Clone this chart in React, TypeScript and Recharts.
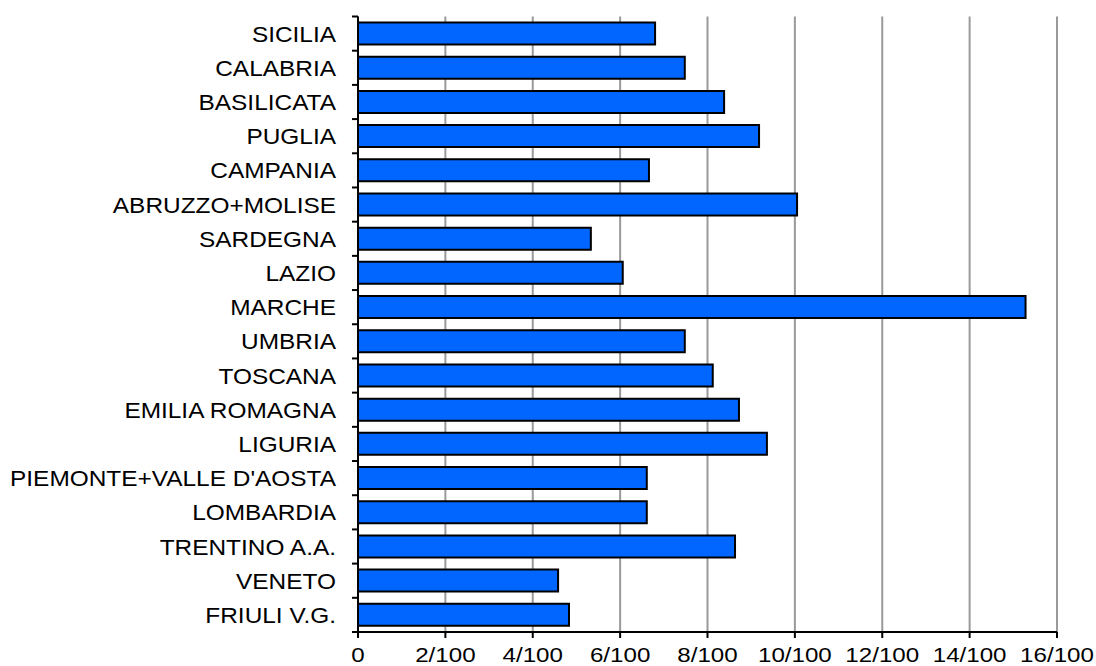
import { Bar, BarChart, CartesianGrid, XAxis, YAxis } from "recharts";

const regions = [
  "SICILIA",
  "CALABRIA",
  "BASILICATA",
  "PUGLIA",
  "CAMPANIA",
  "ABRUZZO+MOLISE",
  "SARDEGNA",
  "LAZIO",
  "MARCHE",
  "UMBRIA",
  "TOSCANA",
  "EMILIA ROMAGNA",
  "LIGURIA",
  "PIEMONTE+VALLE D'AOSTA",
  "LOMBARDIA",
  "TRENTINO A.A.",
  "VENETO",
  "FRIULI V.G.",
];

// values in hundredths
const values = [6.8, 7.48, 8.38, 9.18, 6.66, 10.05, 5.33, 6.06, 15.28, 7.48, 8.12, 8.72, 9.36, 6.61, 6.61, 8.63, 4.58, 4.83];

const xTicks = [0, 2, 4, 6, 8, 10, 12, 14, 16];

const data = regions.map((name, i) => ({ name, value: values[i] }));

const W = 1096;
const H = 666;
const PLOT_TOP = 16.5;
const PLOT_BOTTOM = 632;
const PLOT_LEFT = 358;
const PLOT_RIGHT = 1057;
const band = (PLOT_BOTTOM - PLOT_TOP) / regions.length;
const font = "'Liberation Sans', Arial, sans-serif";

function RegionTick(props: any) {
  const { y, payload, index } = props;
  return (
    <g>
      <text
        transform={`translate(336, ${y}) scale(1.11, 1)`}
        textAnchor="end"
        dy={8}
        fontSize={22}
        fontFamily={font}
        fill="#000"
      >
        {payload.value}
      </text>
      {index === 0 && (
        <line x1={PLOT_LEFT - 6} x2={PLOT_LEFT} y1={y - band / 2} y2={y - band / 2} stroke="#000" strokeWidth={2} />
      )}
      <line x1={PLOT_LEFT - 6} x2={PLOT_LEFT} y1={y + band / 2} y2={y + band / 2} stroke="#000" strokeWidth={2} />
    </g>
  );
}

function ValueTick(props: any) {
  const { x, payload } = props;
  const label = payload.value === 0 ? "0" : `${payload.value}/100`;
  return (
    <text
      transform={`translate(${x}, 662) scale(1.15, 1)`}
      textAnchor="middle"
      fontSize={21}
      fontFamily={font}
      fill="#000"
    >
      {label}
    </text>
  );
}

export default function App() {
  return (
    <div style={{ position: "absolute", left: 0, top: 0, width: W, height: H, background: "#fff" }}>
      <BarChart
        width={W}
        height={H}
        data={data}
        layout="vertical"
        margin={{ top: PLOT_TOP, right: W - PLOT_RIGHT, bottom: 0, left: 0 }}
        barSize={22}
      >
        <CartesianGrid horizontal={false} stroke="#9a9a9a" strokeWidth={2} />
        <XAxis
          type="number"
          domain={[0, 16]}
          ticks={xTicks}
          interval={0}
          height={H - PLOT_BOTTOM}
          axisLine={{ stroke: "#000", strokeWidth: 2 }}
          tickLine={{ stroke: "#000", strokeWidth: 2 }}
          tickSize={6}
          tick={<ValueTick />}
        />
        <YAxis
          type="category"
          dataKey="name"
          width={PLOT_LEFT}
          interval={0}
          axisLine={{ stroke: "#000", strokeWidth: 2 }}
          tickLine={false}
          tick={<RegionTick />}
        />
        <Bar dataKey="value" fill="#0066ff" stroke="#000" strokeWidth={2} isAnimationActive={false} />
      </BarChart>
    </div>
  );
}
